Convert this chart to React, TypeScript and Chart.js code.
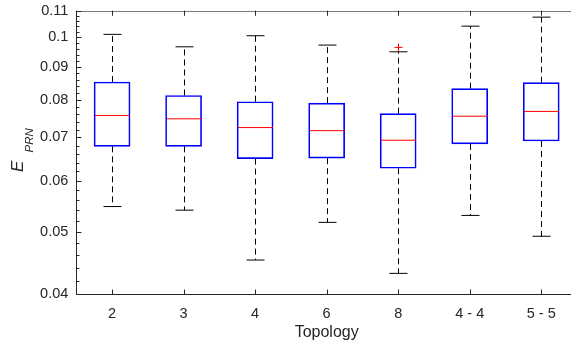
import React, { useEffect, useRef } from 'react';
import { Chart, registerables } from 'chart.js';

Chart.register(...registerables);

const categories = ['2', '3', '4', '6', '8', '4 - 4', '5 - 5'];
const whiskerHigh = [0.1011, 0.0967, 0.1006, 0.0973, 0.095, 0.1041, 0.1075];
const q3 = [0.0853, 0.0813, 0.0795, 0.0791, 0.0762, 0.0833, 0.0851];
const medians = [0.0757, 0.0748, 0.0725, 0.0717, 0.0693, 0.0755, 0.0768];
const q1 = [0.0678, 0.0678, 0.0649, 0.065, 0.0627, 0.0684, 0.0691];
const whiskerLow = [0.0547, 0.054, 0.0452, 0.0517, 0.0431, 0.053, 0.0492];
const outlierCategories = ['8'];
const outlierValues = [0.0965];
const yTickValues = [0.04, 0.05, 0.06, 0.07, 0.08, 0.09, 0.1, 0.11];
const yMinorTickValues = [
  0.042, 0.044, 0.046, 0.048,
  0.052, 0.054, 0.056, 0.058,
  0.062, 0.064, 0.066, 0.068,
  0.072, 0.074, 0.076, 0.078,
  0.082, 0.084, 0.086, 0.088,
  0.092, 0.094, 0.096, 0.098,
  0.102, 0.104, 0.106, 0.108,
];
const xTitle = 'Topology';
const yTitleMain = 'E';
const yTitleSub = 'PRN';

const FONT = "'Liberation Sans', Arial, Helvetica, sans-serif";
const AXIS_COLOR = '#262626';

const boxExtras = {
  id: 'boxExtras',
  afterDatasetsDraw(chart: any) {
    const { ctx, scales } = chart;
    const x = scales.x;
    const y = scales.y;
    ctx.save();
    const capHalf = 9;
    const boxHalf = 18;
    categories.forEach((_c, i) => {
      const cx = Math.round(x.getPixelForValue(i)) + 0.5;
      const yHi = y.getPixelForValue(whiskerHigh[i]);
      const yQ3 = y.getPixelForValue(q3[i]);
      const yQ1 = y.getPixelForValue(q1[i]);
      const yLo = y.getPixelForValue(whiskerLow[i]);
      const yMed = y.getPixelForValue(medians[i]);
      ctx.strokeStyle = '#000';
      ctx.lineWidth = 1;
      ctx.setLineDash([6, 4]);
      ctx.beginPath();
      ctx.moveTo(cx, yQ3);
      ctx.lineTo(cx, yHi);
      ctx.moveTo(cx, yQ1);
      ctx.lineTo(cx, yLo);
      ctx.stroke();
      ctx.setLineDash([]);
      ctx.beginPath();
      ctx.moveTo(cx - capHalf, yHi);
      ctx.lineTo(cx + capHalf, yHi);
      ctx.moveTo(cx - capHalf, yLo);
      ctx.lineTo(cx + capHalf, yLo);
      ctx.stroke();
      ctx.strokeStyle = '#ff0000';
      ctx.beginPath();
      ctx.moveTo(cx - boxHalf + 0.5, yMed);
      ctx.lineTo(cx + boxHalf - 0.5, yMed);
      ctx.stroke();
    });
    ctx.strokeStyle = '#ff0000';
    outlierCategories.forEach((c, k) => {
      const cx = Math.round(x.getPixelForValue(categories.indexOf(c))) + 0.5;
      const py = y.getPixelForValue(outlierValues[k]);
      ctx.beginPath();
      ctx.moveTo(cx - 4, py);
      ctx.lineTo(cx + 4, py);
      ctx.moveTo(cx, py - 4);
      ctx.lineTo(cx, py + 4);
      ctx.stroke();
    });
    ctx.restore();
  },
  afterDraw(chart: any) {
    const { ctx, chartArea: a, scales } = chart;
    const x = scales.x;
    const y = scales.y;
    ctx.save();
    ctx.lineWidth = 1;
    ctx.strokeStyle = '#7a7a7a';
    ctx.beginPath();
    ctx.moveTo(a.left, Math.round(a.top) + 0.5);
    ctx.lineTo(a.right, Math.round(a.top) + 0.5);
    ctx.stroke();
    ctx.strokeStyle = AXIS_COLOR;
    const lx = Math.round(a.left) + 0.5;
    const by = Math.round(a.bottom) + 0.5;
    ctx.beginPath();
    ctx.moveTo(lx, a.top);
    ctx.lineTo(lx, by);
    ctx.lineTo(a.right, by);
    ctx.stroke();
    ctx.beginPath();
    yTickValues.forEach((v) => {
      const py = Math.round(y.getPixelForValue(v)) + 0.5;
      ctx.moveTo(lx, py);
      ctx.lineTo(lx + 5, py);
    });
    yMinorTickValues.forEach((v) => {
      const py = Math.round(y.getPixelForValue(v)) + 0.5;
      ctx.moveTo(lx, py);
      ctx.lineTo(lx + 3, py);
    });
    categories.forEach((_c, i) => {
      const px = Math.round(x.getPixelForValue(i)) + 0.5;
      ctx.moveTo(px, by);
      ctx.lineTo(px, by - 5);
      ctx.moveTo(px, a.top);
      ctx.lineTo(px, a.top + 5);
    });
    ctx.stroke();
    ctx.fillStyle = AXIS_COLOR;
    ctx.translate(22.5, (a.top + a.bottom) / 2);
    ctx.rotate(-Math.PI / 2);
    ctx.textBaseline = 'alphabetic';
    ctx.textAlign = 'left';
    ctx.font = `italic 17px ${FONT}`;
    ctx.fillText(yTitleMain, -19.5, 0);
    ctx.font = `italic 11.5px ${FONT}`;
    ctx.fillText(yTitleSub, 0, 10);
    ctx.restore();
  },
};

export default function App() {
  const ref = useRef<HTMLCanvasElement | null>(null);
  useEffect(() => {
    if (!ref.current) return;
    const chart = new Chart(ref.current, {
      type: 'bar',
      data: {
        labels: categories,
        datasets: [
          {
            data: q1.map((v, i) => [v, q3[i]]) as any,
            borderColor: '#0000ff',
            backgroundColor: 'rgba(0,0,0,0)',
            borderWidth: 1,
            borderSkipped: false,
            barThickness: 36,
          },
        ],
      },
      options: {
        responsive: false,
        animation: false,
        events: [],
        layout: { padding: { top: 10.7, left: 0, right: 0, bottom: 0 } },
        plugins: { legend: { display: false }, tooltip: { enabled: false } },
        scales: {
          x: {
            type: 'category',
            offset: true,
            grid: { display: false, drawTicks: false },
            border: { display: false },
            ticks: {
              padding: 11,
              color: AXIS_COLOR,
              font: { family: FONT, size: 14.5 },
              maxRotation: 0,
              autoSkip: false,
            },
            title: {
              display: true,
              text: xTitle,
              color: AXIS_COLOR,
              font: { family: FONT, size: 16 },
              padding: { top: 0, bottom: 6 },
            },
            afterFit(scale: any) {
              scale.height = 348 - 294.3;
              scale.paddingLeft = 0;
              scale.paddingRight = 0;
            },
          },
          y: {
            type: 'logarithmic',
            min: 0.04,
            max: 0.11,
            grid: { display: false, drawTicks: false },
            border: { display: false },
            ticks: {
              padding: 8,
              color: AXIS_COLOR,
              font: { family: FONT, size: 14.5 },
              autoSkip: false,
              callback: (v: any) => String(Number(Number(v).toFixed(3))),
            },
            afterBuildTicks(scale: any) {
              scale.ticks = yTickValues.map((v) => ({ value: v }));
            },
            afterFit(scale: any) {
              scale.width = 76.3;
              scale.paddingTop = 0;
              scale.paddingBottom = 0;
            },
          },
        },
      },
      plugins: [boxExtras],
    });
    return () => chart.destroy();
  }, []);
  return (
    <div
      style={{
        position: 'absolute',
        left: 0,
        top: 0,
        width: 571,
        height: 348,
        overflow: 'hidden',
        background: '#fff',
      }}
    >
      <canvas ref={ref} width={577} height={348} style={{ display: 'block' }} />
    </div>
  );
}
